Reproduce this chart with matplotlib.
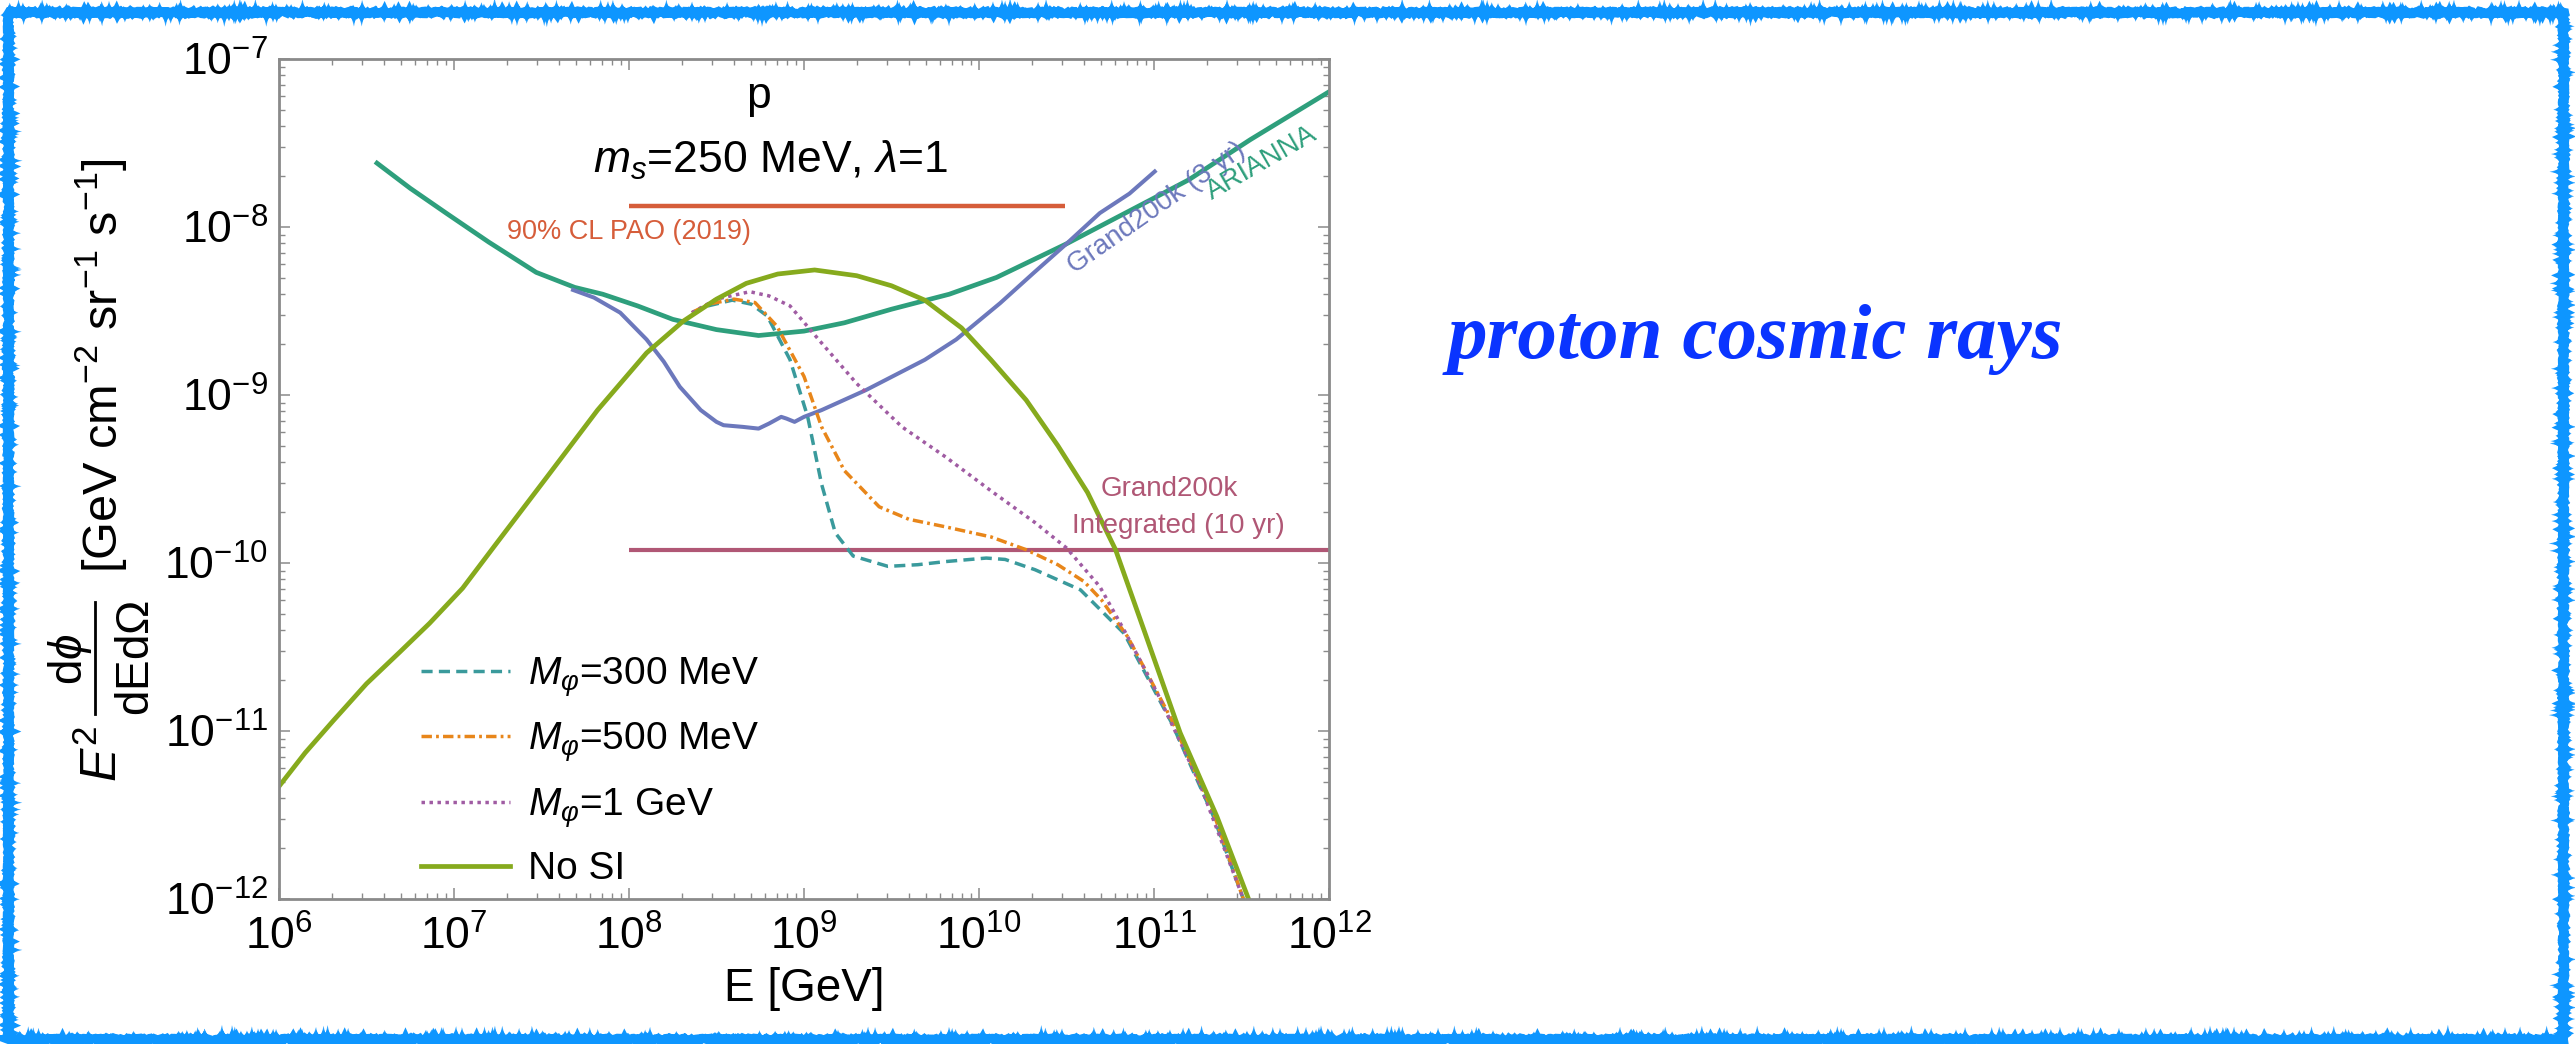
import matplotlib
matplotlib.use("Agg")
import matplotlib.pyplot as plt
from matplotlib.lines import Line2D
from matplotlib.patches import Rectangle
from matplotlib.ticker import LogLocator, LogFormatterSciNotation, NullFormatter

plt.rcParams['font.family'] = ['Liberation Sans', 'DejaVu Sans']
plt.rcParams['mathtext.fontset'] = 'custom'
plt.rcParams['mathtext.rm'] = 'Liberation Sans'
plt.rcParams['mathtext.it'] = 'Liberation Sans:italic'
plt.rcParams['mathtext.bf'] = 'Liberation Sans:bold'

# --- data (E in GeV, E^2 dphi/dEdOmega) ---
e_arianna = [3.63e6, 5.62e6, 9.12e6, 1.58e7, 2.95e7, 4.9e7, 7.08e7, 1.12e8, 1.78e8, 3.16e8, 5.5e8,
             1.0e9, 1.7e9, 3.16e9, 6.76e9, 1.26e10, 3.16e10, 9.55e10, 1.58e11, 3.55e11, 1.0e12]
f_arianna = [2.40e-8, 1.70e-8, 1.20e-8, 8.13e-9, 5.37e-9, 4.37e-9, 3.98e-9, 3.39e-9, 2.82e-9, 2.45e-9, 2.26e-9,
             2.40e-9, 2.69e-9, 3.24e-9, 3.98e-9, 5.01e-9, 7.94e-9, 1.45e-8, 1.91e-8, 3.31e-8, 6.38e-8]

e_nosi = [1.0e6, 1.41e6, 2.04e6, 3.16e6, 4.9e6, 7.24e6, 1.12e7, 1.76e7, 3.39e7, 6.61e7, 1.26e8, 2.04e8,
          3.16e8, 4.68e8, 7.08e8, 1.15e9, 2.0e9, 3.16e9, 4.9e9, 7.94e9, 1.17e10, 1.86e10, 2.82e10,
          4.17e10, 6.03e10, 8.91e10, 1.41e11, 2.29e11, 3.47e11]
f_nosi = [4.68e-12, 7.41e-12, 1.15e-11, 1.91e-11, 2.95e-11, 4.37e-11, 7.08e-11, 1.32e-10, 3.24e-10, 8.13e-10,
          1.78e-9, 2.75e-9, 3.72e-9, 4.62e-9, 5.25e-9, 5.55e-9, 5.13e-9, 4.47e-9, 3.67e-9, 2.51e-9, 1.62e-9,
          9.33e-10, 5.0e-10, 2.63e-10, 1.20e-10, 3.80e-11, 9.77e-12, 3.09e-12, 1.0e-12]

e_m300 = [2.29e8, 2.82e8, 3.89e8, 5.01e8, 6.17e8, 8.32e8, 1.05e9, 1.26e9, 1.51e9, 1.91e9, 3.02e9, 4.47e9,
          6.46e9, 1.10e10, 1.41e10, 2.09e10, 3.80e10, 6.76e10, 1.26e11, 2.19e11, 3.24e11]
f_m300 = [3.09e-9, 3.39e-9, 3.67e-9, 3.47e-9, 2.95e-9, 1.62e-9, 7.41e-10, 2.95e-10, 1.51e-10, 1.10e-10,
          9.55e-11, 9.77e-11, 1.02e-10, 1.07e-10, 1.05e-10, 9.12e-11, 6.92e-11, 3.80e-11, 1.12e-11, 3.09e-12, 1.0e-12]

e_m500 = [2.29e8, 2.82e8, 3.98e8, 5.25e8, 7.0e8, 1.0e9, 1.26e9, 1.70e9, 2.69e9, 3.98e9, 6.46e9, 1.17e10,
          1.86e10, 2.82e10, 3.98e10, 5.01e10, 7.08e10, 1.26e11, 2.19e11, 3.24e11]
f_m500 = [3.09e-9, 3.47e-9, 3.72e-9, 3.55e-9, 2.57e-9, 1.29e-9, 6.46e-10, 3.55e-10, 2.16e-10, 1.82e-10,
          1.64e-10, 1.43e-10, 1.20e-10, 9.77e-11, 7.76e-11, 6.03e-11, 3.63e-11, 1.17e-11, 3.24e-12, 1.0e-12]

e_m1000 = [2.29e8, 3.16e8, 4.9e8, 6.31e8, 8.32e8, 1.26e9, 2.0e9, 3.63e9, 6.46e9, 1.17e10, 2.09e10, 3.16e10,
           4.9e10, 6.92e10, 1.05e11, 1.82e11, 3.24e11]
f_m1000 = [3.09e-9, 3.72e-9, 4.12e-9, 3.89e-9, 3.39e-9, 2.04e-9, 1.17e-9, 6.46e-10, 4.27e-10, 2.69e-10,
           1.74e-10, 1.23e-10, 7.24e-11, 3.80e-11, 1.66e-11, 4.90e-12, 1.0e-12]

e_grand3 = [4.79e7, 6.31e7, 8.91e7, 1.26e8, 1.58e8, 1.95e8, 2.57e8, 3.16e8, 3.47e8, 4.47e8, 5.5e8, 6.31e8,
            7.41e8, 7.94e8, 8.83e8, 1.0e9, 1.26e9, 2.26e9, 4.9e9, 7.41e9, 1.32e10, 2.04e10, 3.16e10,
            4.9e10, 7.24e10, 1.01e11]
f_grand3 = [4.22e-9, 3.80e-9, 3.09e-9, 2.14e-9, 1.58e-9, 1.12e-9, 8.13e-10, 6.92e-10, 6.61e-10, 6.46e-10,
            6.31e-10, 6.76e-10, 7.41e-10, 7.24e-10, 6.92e-10, 7.41e-10, 8.13e-10, 1.07e-9, 1.62e-9, 2.14e-9,
            3.52e-9, 5.30e-9, 7.94e-9, 1.21e-8, 1.58e-8, 2.14e-8]

e_pao = [1.0e8, 3.1e10]
f_pao = [1.33e-8, 1.33e-8]
e_grand10 = [1.0e8, 1.0e12]
f_grand10 = [1.19e-10, 1.19e-10]

legend_labels = [r'$M_\varphi$=300 MeV', r'$M_\varphi$=500 MeV', r'$M_\varphi$=1 GeV', 'No SI']

W, H = 2575, 1044
fig = plt.figure(figsize=(W / 100, H / 100), dpi=100)
ax = fig.add_axes([279 / W, 1 - 899 / H, 1050 / W, 840 / H])

kw = dict(solid_joinstyle='round', dash_joinstyle='round')
ax.plot(e_arianna, f_arianna, color='#2e9f7c', lw=3.4, **kw)
ax.plot(e_grand3, f_grand3, color='#6c78bc', lw=2.9, **kw)
ax.plot(e_pao, f_pao, color='#d65d3a', lw=3.2, solid_capstyle='butt')
ax.plot(e_grand10, f_grand10, color='#b05775', lw=3.0, solid_capstyle='butt')
l1, = ax.plot(e_m300, f_m300, color='#3a9a9c', lw=2.5, dashes=(3.2, 1.8), **kw)
l2, = ax.plot(e_m500, f_m500, color='#e8861a', lw=2.5, dashes=(3.0, 1.2, 0.8, 1.2), **kw)
l3, = ax.plot(e_m1000, f_m1000, color='#a05ca3', lw=2.5, dashes=(1.0, 1.3), **kw)
l4, = ax.plot(e_nosi, f_nosi, color='#86aa1d', lw=3.4, **kw)

ax.set_xscale('log')
ax.set_yscale('log')
ax.set_xlim(1e6, 1e12)
ax.set_ylim(1e-12, 1e-7)

for axis in (ax.xaxis, ax.yaxis):
    axis.set_major_locator(LogLocator(base=10, numticks=20))
    axis.set_minor_locator(LogLocator(base=10, subs=range(2, 10), numticks=100))
    axis.set_major_formatter(LogFormatterSciNotation())
    axis.set_minor_formatter(NullFormatter())

ax.tick_params(which='both', direction='in', top=True, right=True, color='#8a8a8a')
ax.tick_params(which='major', length=8, width=1.1, labelsize=32, pad=8)
ax.tick_params(which='minor', length=4.5, width=1.0)
ax.tick_params(axis='x', which='major', pad=12)
for s in ax.spines.values():
    s.set_color('#8a8a8a')
    s.set_linewidth(2.0)

ax.set_xlabel('E [GeV]', fontsize=33, labelpad=6)

# y label, built from pieces so the fraction keeps full-size letters
ylab = dict(rotation=90, rotation_mode='anchor', ha='center', va='baseline', transform=fig.transFigure)
fig.text(117 / W, 1 - 366 / H, r'[GeV cm$^{-2}$ sr$^{-1}$ s$^{-1}$]', fontsize=35, **ylab)
fig.text(117 / W, 1 - 754 / H, r'$E^2$', fontsize=36, **ylab)
fig.text(82 / W, 1 - 659 / H, r'$\mathrm{d}\phi$', fontsize=33, **ylab)
fig.text(149 / W, 1 - 658 / H, r'$\mathrm{dEd\Omega}$', fontsize=33, **ylab)
fig.add_artist(Line2D([95 / W, 95 / W], [1 - 602 / H, 1 - 714 / H], color='black', lw=2.0,
                      transform=fig.transFigure))

# annotations
ax.text(5.46e8, 5.09e-8, 'p', fontsize=32, ha='center', va='baseline')
ax.text(6.4e8, 2.09e-8, r'$m_s$=250 MeV, $\lambda$=1', fontsize=32, ha='center', va='baseline')
ax.text(1.0e8, 8.5e-9, '90% CL PAO (2019)', fontsize=19.5, color='#d65d3a', ha='center', va='baseline')
ax.text(1.23e11, 2.5e-10, 'Grand200k', fontsize=20, color='#b05775', ha='center', va='baseline')
ax.text(1.37e11, 1.5e-10, 'Integrated (10 yr)', fontsize=20, color='#b05775', ha='center', va='baseline')
ax.text(1.03e11, 1.30e-8, 'Grand200k (3 yr)', fontsize=20, color='#6c78bc', ha='center', va='center',
        rotation=35, rotation_mode='anchor')
ax.text(4.14e11, 2.40e-8, 'ARIANNA', fontsize=20, color='#2e9f7c', ha='center', va='center',
        rotation=30, rotation_mode='anchor')

leg = ax.legend([l1, l2, l3, l4], legend_labels, loc='upper left', fontsize=28,
                bbox_to_anchor=(421 / W, 1 - 655 / H), bbox_transform=fig.transFigure,
                frameon=False, borderpad=0, borderaxespad=0, handlelength=2.3,
                handletextpad=0.45, labelspacing=0.56)

fig.text(1755 / W, 1 - 358 / H, 'proton cosmic rays', fontsize=57, color='#0a34ff',
         family='Liberation Serif', fontweight='bold', fontstyle='italic', ha='center', va='baseline')

# sketchy blue frame
for lw, sc, al in [(6.5, 1.2, 1.0), (3.5, 3.0, 0.85)]:
    r = Rectangle((7.5 / W, 1 - 1039 / H), (2563 - 7.5) / W, (1039 - 12) / H,
                  transform=fig.transFigure, fill=False, ec='#0e96ff', lw=lw, alpha=al)
    r.set_sketch_params(scale=sc, length=5, randomness=4)
    fig.patches.append(r)

fig.savefig('out.png', dpi=100)
